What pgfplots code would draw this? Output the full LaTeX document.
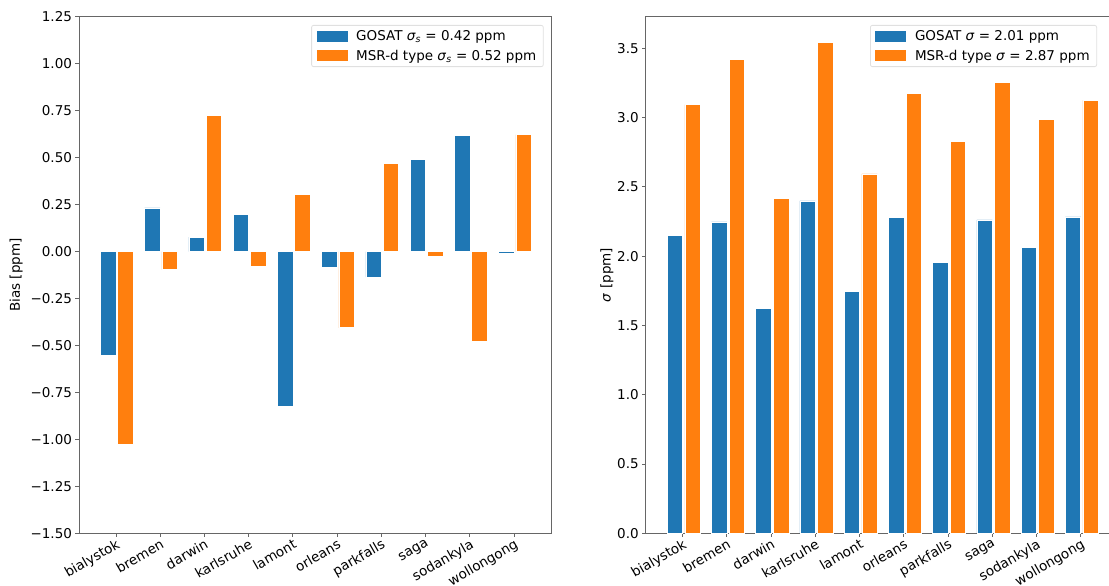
\documentclass[border=0pt]{standalone}
\usepackage{fontspec}
\setmainfont{DejaVu Sans}
\usepackage{pgfplots}
\pgfplotsset{compat=1.18}
\definecolor{mblue}{HTML}{1F77B4}
\definecolor{morange}{HTML}{FF7F0E}
\newcommand{\fs}{\fontsize{13.5}{16}\selectfont}
\pgfplotsset{
  mystyle/.style={
    scale only axis,
    height=516.6pt,
    width=472pt,
    xmin=-0.835, xmax=9.835,
    xtick={0,1,2,3,4,5,6,7,8,9},
    xticklabels={bialystok,bremen,darwin,karlsruhe,lamont,orleans,parkfalls,saga,sodankyla,wollongong},
    xticklabel style={rotate=30, anchor=north east, inner sep=1pt},
    tick align=outside, xtick pos=bottom, ytick pos=left,
    major tick length=3.5pt,
    axis line style={black!60, line width=0.8pt},
    every tick/.style={black!60, line width=0.8pt},
    tick label style={font=\fs},
    legend style={font=\fs, draw=black!12, line width=0.8pt, rounded corners=2pt, inner xsep=5pt, inner ysep=3pt, row sep=4pt, legend cell align=left,
      /tikz/every odd column/.append style={column sep=7pt}},
  },
  mybar/.style={ybar, bar width=0.35, draw=white, line width=0.6pt, fill=#1,
    legend image code/.code={\fill[#1, sharp corners] (0pt,-5pt) rectangle (30pt,5pt);}},
}
\begin{document}
\begin{tikzpicture}
\begin{axis}[mystyle,
  at={(79pt,52.7pt)}, anchor=south west,
  ymin=-1.5, ymax=1.25,
  ytick={-1.5,-1.25,-1,-0.75,-0.5,-0.25,0,0.25,0.5,0.75,1,1.25},
  yticklabels={−1.50,−1.25,−1.00,−0.75,−0.50,−0.25,0.00,0.25,0.50,0.75,1.00,1.25},
  ylabel={Bias [ppm]},
  every axis y label/.style={at={(rel axis cs:-0.133,0.5)}, rotate=90, anchor=center, font=\fs},
  legend style={at={(0.9845,0.984)}, anchor=north east},
]
\addplot[mybar=mblue, bar shift=-0.175] coordinates {
(0,-0.550) (1,0.232) (2,0.076) (3,0.197) (4,-0.825) (5,-0.085) (6,-0.137) (7,0.489) (8,0.620) (9,-0.010)};
\addlegendentry{GOSAT \textit{σ}\textsubscript{\textit{s}} = 0.42 ppm}
\addplot[mybar=morange, bar shift=0.215] coordinates {
(0,-1.027) (1,-0.096) (2,0.725) (3,-0.080) (4,0.305) (5,-0.406) (6,0.468) (7,-0.028) (8,-0.477) (9,0.622)};
\addlegendentry{MSR-d type \textit{σ}\textsubscript{\textit{s}} = 0.52 ppm}
\end{axis}
\begin{axis}[mystyle,
  at={(645.7pt,52.7pt)}, anchor=south west,
  ymin=0, ymax=3.7275,
  ytick={0,0.5,1,1.5,2,2.5,3,3.5},
  yticklabels={0.0,0.5,1.0,1.5,2.0,2.5,3.0,3.5},
  ylabel={\textit{σ} [ppm]},
  every axis y label/.style={at={(rel axis cs:-0.082,0.5)}, rotate=90, anchor=center, font=\fs},
  legend style={at={(0.4752,0.984)}, anchor=north west},
]
\addplot[mybar=mblue, bar shift=-0.175] coordinates {
(0,2.151) (1,2.247) (2,1.625) (3,2.399) (4,1.743) (5,2.278) (6,1.952) (7,2.262) (8,2.060) (9,2.283)};
\addlegendentry{GOSAT \textit{σ} = 2.01 ppm}
\addplot[mybar=morange, bar shift=0.225] coordinates {
(0,3.093) (1,3.418) (2,2.415) (3,3.543) (4,2.593) (5,3.175) (6,2.826) (7,3.252) (8,2.985) (9,3.124)};
\addlegendentry{MSR-d type \textit{σ} = 2.87 ppm}
\end{axis}
\pgfresetboundingbox
\path[use as bounding box] (0pt,0pt) rectangle (1109pt,586pt);
\end{tikzpicture}
\end{document}
